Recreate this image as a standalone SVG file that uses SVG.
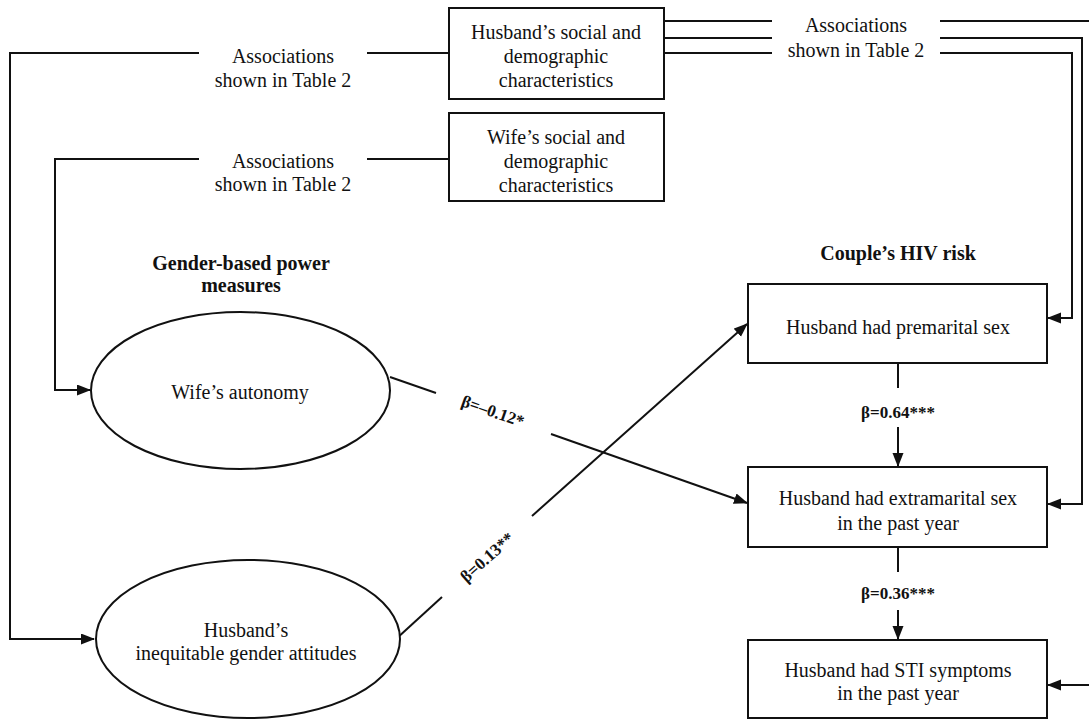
<svg xmlns="http://www.w3.org/2000/svg" width="1089" height="720" viewBox="0 0 1089 720">
<style>
.t{font-family:"Liberation Serif","Times New Roman",serif;font-size:20px;fill:#111;text-anchor:middle}
.b{font-weight:bold}
.s{font-size:17px}
.box{fill:#fff;stroke:#111;stroke-width:2}
.ln{fill:none;stroke:#111;stroke-width:2}
</style>
<defs>
<marker id="ah" markerWidth="14" markerHeight="12" refX="13" refY="5.5" orient="auto" markerUnits="userSpaceOnUse">
<path d="M0,0 L14,5.5 L0,11 z" fill="#111"/>
</marker>
</defs>
<rect width="1089" height="720" fill="#fff"/>
<g id="connectors">
<path class="ln" d="M199,53 H10 V639 H94" marker-end="url(#ah)"/>
<path class="ln" d="M367,53 H449"/>
<path class="ln" d="M199,159 H55 V390 H90" marker-end="url(#ah)"/>
<path class="ln" d="M367,159 H449"/>
<path class="ln" d="M664,21 H772 M940,21 H1089"/>
<path class="ln" d="M664,38 H772"/>
<path class="ln" d="M940,38 H1082 V504 H1048" marker-end="url(#ah)"/>
<path class="ln" d="M664,53 H772"/>
<path class="ln" d="M940,53 H1072 V318 H1048" marker-end="url(#ah)"/>
<path class="ln" d="M1089,685 H1048" marker-end="url(#ah)"/>
<path class="ln" d="M898,363 V388"/>
<path class="ln" d="M898,427 V466" marker-end="url(#ah)"/>
<path class="ln" d="M898,547 V572"/>
<path class="ln" d="M898,610 V639" marker-end="url(#ah)"/>
<path class="ln" d="M390,377 L436,393"/>
<path class="ln" d="M551,434 L747,503" marker-end="url(#ah)"/>
<path class="ln" d="M396,639 L442,597"/>
<path class="ln" d="M532,516 L747,324" marker-end="url(#ah)"/>
<text class="t b s" transform="translate(493,411) rotate(19.4)" y="6">β=–0.12*</text>
<text class="t b s" transform="translate(487,557) rotate(-41.6)" y="6">β=0.13**</text>
<text class="t b s" x="898" y="418">β=0.64***</text>
<text class="t b s" x="898" y="599">β=0.36***</text>
<text class="t" x="283" y="63">Associations</text>
<text class="t" x="283" y="87">shown in Table 2</text>
<text class="t" x="283" y="168">Associations</text>
<text class="t" x="283" y="191">shown in Table 2</text>
<text class="t" x="856" y="32">Associations</text>
<text class="t" x="856" y="57">shown in Table 2</text>
</g>
<g id="husband-chars">
<rect class="box" x="449" y="8" width="215" height="91"/>
<text class="t" x="556" y="39">Husband’s social and</text>
<text class="t" x="556" y="63">demographic</text>
<text class="t" x="556" y="87">characteristics</text>
</g>
<g id="wife-chars">
<rect class="box" x="449" y="113" width="215" height="88"/>
<text class="t" x="556" y="144">Wife’s social and</text>
<text class="t" x="556" y="168">demographic</text>
<text class="t" x="556" y="192">characteristics</text>
</g>
<g id="gender-header">
<text class="t b" x="241" y="270">Gender-based power</text>
<text class="t b" x="241" y="292">measures</text>
</g>
<g id="hiv-header">
<text class="t b" x="898" y="260">Couple’s HIV risk</text>
</g>
<g id="wife-autonomy">
<ellipse class="box" cx="240.5" cy="390.5" rx="149.5" ry="78.5"/>
<text class="t" x="240" y="399">Wife’s autonomy</text>
</g>
<g id="husband-attitudes">
<ellipse class="box" cx="248" cy="639" rx="152" ry="79"/>
<text class="t" x="246" y="637">Husband’s</text>
<text class="t" x="246" y="660">inequitable gender attitudes</text>
</g>
<g id="premarital">
<rect class="box" x="748" y="284" width="299" height="79"/>
<text class="t" x="898" y="334">Husband had premarital sex</text>
</g>
<g id="extramarital">
<rect class="box" x="748" y="467" width="299" height="80"/>
<text class="t" x="898" y="505">Husband had extramarital sex</text>
<text class="t" x="898" y="530">in the past year</text>
</g>
<g id="sti">
<rect class="box" x="748" y="640" width="299" height="78"/>
<text class="t" x="898" y="677">Husband had STI symptoms</text>
<text class="t" x="898" y="700">in the past year</text>
</g>
</svg>
